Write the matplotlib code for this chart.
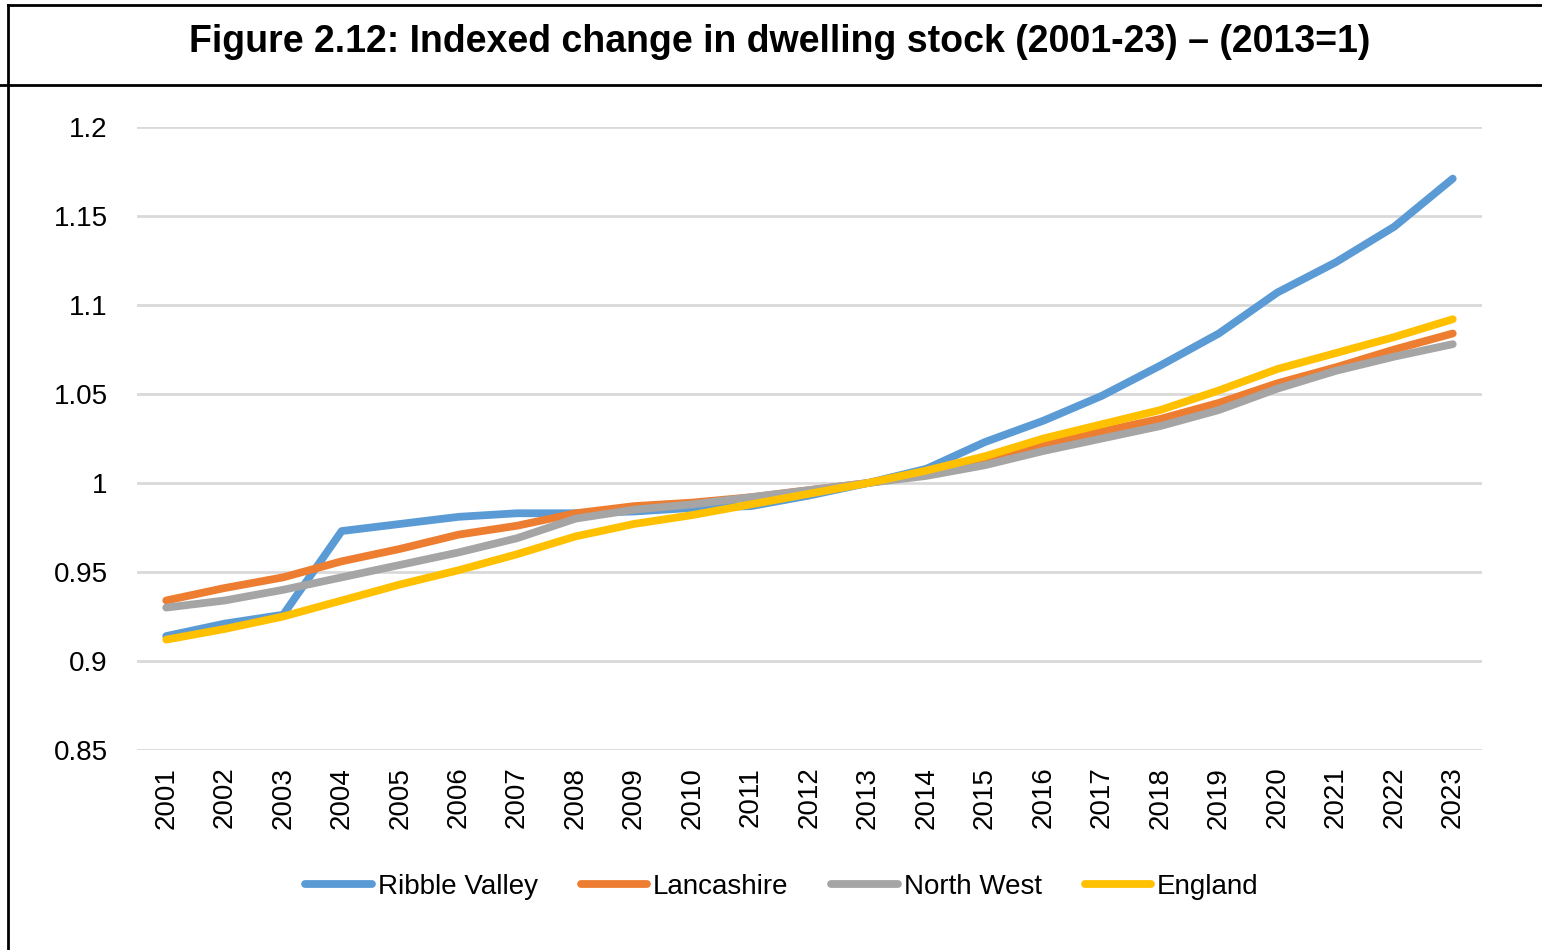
import matplotlib.pyplot as plt
from matplotlib.lines import Line2D

plt.rcParams['font.family'] = ['Liberation Sans', 'DejaVu Sans']

years = [str(y) for y in range(2001, 2024)]

ribble_valley = [0.914, 0.921, 0.926, 0.973, 0.977, 0.981, 0.983, 0.983, 0.984, 0.986,
                 0.987, 0.993, 1.000, 1.008, 1.023, 1.035, 1.049, 1.066, 1.084, 1.107,
                 1.124, 1.144, 1.171]
lancashire = [0.934, 0.941, 0.947, 0.956, 0.963, 0.971, 0.976, 0.983, 0.987, 0.989,
              0.992, 0.996, 1.000, 1.005, 1.012, 1.021, 1.029, 1.036, 1.045, 1.056,
              1.065, 1.075, 1.084]
north_west = [0.930, 0.934, 0.940, 0.947, 0.954, 0.961, 0.969, 0.980, 0.985, 0.988,
              0.992, 0.996, 1.000, 1.004, 1.010, 1.018, 1.025, 1.032, 1.041, 1.053,
              1.063, 1.071, 1.078]
england = [0.912, 0.918, 0.925, 0.934, 0.943, 0.951, 0.960, 0.970, 0.977, 0.982,
           0.988, 0.994, 1.000, 1.007, 1.015, 1.025, 1.033, 1.041, 1.052, 1.064,
           1.073, 1.082, 1.092]

series = [
    ("Ribble Valley", ribble_valley, "#5b9bd5"),
    ("Lancashire", lancashire, "#ed7d31"),
    ("North West", north_west, "#a5a5a5"),
    ("England", england, "#ffc000"),
]

yticks = [0.85, 0.9, 0.95, 1.0, 1.05, 1.1, 1.15, 1.2]
ytick_labels = ["0.85", "0.9", "0.95", "1", "1.05", "1.1", "1.15", "1.2"]

fig = plt.figure(figsize=(15.42, 9.5), dpi=100)
ax = fig.add_axes([137 / 1542, 1 - 750 / 950, (1482 - 137) / 1542, (750 - 127) / 950])

x = list(range(len(years)))
for name, vals, color in series:
    ax.plot(x, vals, color=color, lw=5.6, label=name, solid_capstyle="round",
            solid_joinstyle="round", zorder=3)

ax.set_xlim(-0.5, len(years) - 0.5)
ax.set_ylim(0.85, 1.2)
ax.set_yticks(yticks)
ax.set_yticklabels(ytick_labels)
ax.set_xticks(x)
ax.set_xticklabels(years, rotation=90)
ax.tick_params(axis="both", length=0, labelsize=20, colors="black")
ax.tick_params(axis="y", pad=21)
ax.tick_params(axis="x", pad=12)
ax.grid(axis="y", color="#d9d9d9", lw=2)
ax.set_axisbelow(True)
for s in ax.spines.values():
    s.set_visible(False)

# title box lines
fig.add_artist(Line2D([8 / 1542, 8 / 1542], [0, 1 - 5 / 950], color="black", lw=2, transform=fig.transFigure))
fig.add_artist(Line2D([8 / 1542, 1], [1 - 5 / 950, 1 - 5 / 950], color="black", lw=2, transform=fig.transFigure))
fig.add_artist(Line2D([0, 1], [1 - 85 / 950, 1 - 85 / 950], color="black", lw=2, transform=fig.transFigure))

fig.text(780 / 1542, 1 - 42 / 950, "Figure 2.12: Indexed change in dwelling stock (2001-23) \u2013 (2013=1)",
         ha="center", va="center", fontsize=27, fontweight="bold")

handles = [Line2D([], [], color=c, lw=5.6, solid_capstyle="round") for _, _, c in series]
fig.legend(handles, [n for n, _, _ in series], loc="center", bbox_to_anchor=(782 / 1542, 1 - 887 / 950),
           ncol=4, frameon=False, fontsize=20, handlelength=2.4, handletextpad=0.2, columnspacing=1.55)

fig.savefig("out.png", dpi=100)
